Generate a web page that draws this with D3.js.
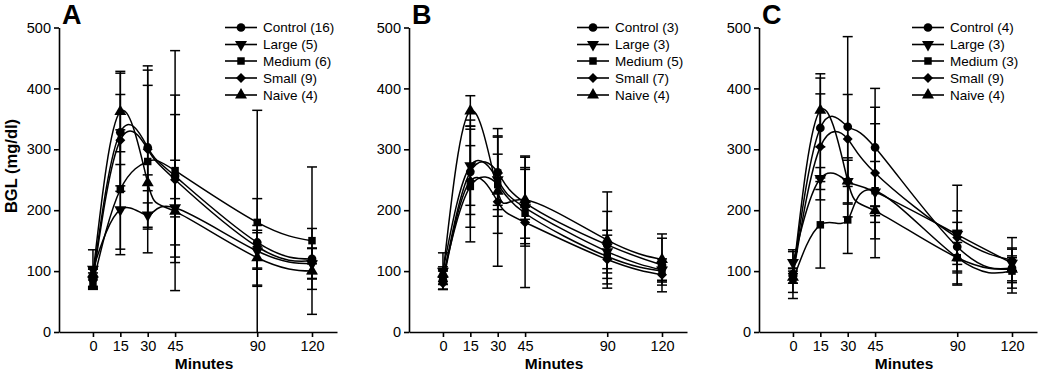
<!DOCTYPE html>
<html>
<head>
<meta charset="utf-8">
<script src="https://cdn.jsdelivr.net/npm/d3@7"></script>
<style>
  html, body { margin: 0; padding: 0; background: #fff; }
  svg { display: block; }
  text { font-family: "Liberation Sans", Arial, sans-serif; fill: #000; }
</style>
</head>
<body>
<svg id="chart" width="1050" height="373"></svg>
<script>
// ---------------- DATA ----------------
const minutes = [0, 15, 30, 45, 90, 120];
const groups = ["Control", "Large", "Medium", "Small", "Naive"];
const yTicks = [0, 100, 200, 300, 400, 500];

// Panel A
const countsA = [16, 5, 6, 9, 4];
const controlA = [90, 328, 303, 256, 147, 120];
const largeA   = [103, 201, 192, 204, 133, 112];
const mediumA  = [80, 234, 280, 265, 180, 150];
const smallA   = [85, 315, 300, 250, 140, 117];
const naiveA   = [95, 362, 245, 198, 122, 100];
const controlErrA = [15, 97, 134, 133, 72, 50];
const largeErrA   = [32, 74, 20, 15, 30, 25];
const mediumErrA  = [10, 98, 150, 197, 184, 121];
const smallErrA   = [12, 75, 105, 107, 35, 21];
const naiveErrA   = [8, 66, 13, 84, 45, 12];

// Panel B
const countsB = [3, 3, 5, 7, 4];
const controlB = [85, 263, 262, 212, 143, 110];
const largeB   = [100, 273, 250, 204, 132, 102];
const mediumB  = [90, 239, 242, 195, 124, 100];
const smallB   = [80, 248, 214, 180, 119, 94];
const naiveB   = [95, 363, 231, 217, 151, 119];
const controlErrB = [15, 70, 72, 58, 55, 44];
const largeErrB   = [30, 65, 42, 63, 35, 18];
const mediumErrB  = [12, 67, 80, 10, 20, 15];
const smallErrB   = [10, 100, 106, 107, 40, 12];
const naiveErrB   = [12, 25, 30, 72, 79, 42];

// Panel C
const countsC = [4, 3, 3, 9, 4];
const controlC = [95, 335, 337, 303, 140, 105];
const largeC   = [114, 252, 247, 230, 160, 113];
const mediumC  = [85, 176, 184, 232, 122, 100];
const smallC   = [92, 304, 317, 261, 155, 118];
const naiveC   = [90, 364, 248, 199, 122, 103];
const controlErrC = [40, 82, 148, 97, 40, 33];
const largeErrC   = [18, 18, 35, 50, 81, 12];
const mediumErrC  = [20, 71, 55, 110, 25, 36];
const smallErrC   = [12, 87, 73, 108, 44, 37];
const naiveErrC   = [10, 60, 38, 8, 45, 19];

// ---------------- BUILD ----------------
const panels = [
  { label: "A", counts: countsA, means: [controlA, largeA, mediumA, smallA, naiveA],
    errs: [controlErrA, largeErrA, mediumErrA, smallErrA, naiveErrA] },
  { label: "B", counts: countsB, means: [controlB, largeB, mediumB, smallB, naiveB],
    errs: [controlErrB, largeErrB, mediumErrB, smallErrB, naiveErrB] },
  { label: "C", counts: countsC, means: [controlC, largeC, mediumC, smallC, naiveC],
    errs: [controlErrC, largeErrC, mediumErrC, smallErrC, naiveErrC] }
];
const layout = [
  { dx: 0,   legendX: 225 },
  { dx: 350, legendX: 227 },
  { dx: 700, legendX: 212 }
];

const symbolFor = {
  Control: { type: d3.symbolCircle, size: 60, rot: 0 },
  Large:   { type: d3.symbolTriangle, size: 62, rot: 180 },
  Medium:  { type: d3.symbolSquare, size: 56, rot: 0 },
  Small:   { type: d3.symbolSquare, size: 50, rot: 45 },
  Naive:   { type: d3.symbolTriangle, size: 62, rot: 0 }
};

const svg = d3.select("#chart");

const x = d3.scaleLinear().domain([-18.6, 133.7]).range([59, 337]);
const y = d3.scaleLinear().domain([0, 500]).range([332, 27.5]);

const line = d3.line()
  .x(d => x(d.t))
  .y(d => y(d.v))
  .curve(d3.curveNatural);

function drawSymbol(g, name, cx, cy) {
  const s = symbolFor[name];
  g.append("path")
    .attr("d", d3.symbol().type(s.type).size(s.size)())
    .attr("transform", `translate(${cx},${cy}) rotate(${s.rot})`)
    .attr("fill", "#000");
}

panels.forEach((p, pi) => {
  const L = layout[pi];
  const g = svg.append("g").attr("transform", `translate(${L.dx},0)`);

  // axes
  const ya = g.append("g").attr("transform", `translate(${x.range()[0]},0)`)
    .call(d3.axisLeft(y).tickValues(yTicks).tickSize(5).tickSizeOuter(0).tickPadding(3));
  const xa = g.append("g").attr("transform", `translate(0,${y(0)})`)
    .call(d3.axisBottom(x).tickValues(minutes).tickSize(5).tickSizeOuter(0).tickPadding(4));
  [ya, xa].forEach(a => {
    a.selectAll("path, line").attr("stroke", "#000").attr("stroke-width", 1.6);
    a.selectAll("text").attr("font-size", 14.5).attr("font-family", "Liberation Sans, Arial, sans-serif").attr("fill", "#000");
  });

  // error bars
  groups.forEach((name, si) => {
    const eb = g.append("g");
    minutes.forEach((t, i) => {
      const m = p.means[si][i], e = p.errs[si][i];
      const hi = m + e, lo = Math.max(0, m - e);
      const cx = x(t);
      eb.append("line").attr("x1", cx).attr("x2", cx).attr("y1", y(hi)).attr("y2", y(lo))
        .attr("stroke", "#000").attr("stroke-width", 1.5);
      eb.append("line").attr("x1", cx - 5).attr("x2", cx + 5).attr("y1", y(hi)).attr("y2", y(hi))
        .attr("stroke", "#000").attr("stroke-width", 1.5);
      if (m - e > 0) {
        eb.append("line").attr("x1", cx - 5).attr("x2", cx + 5).attr("y1", y(lo)).attr("y2", y(lo))
          .attr("stroke", "#000").attr("stroke-width", 1.5);
      }
    });
  });

  // lines
  groups.forEach((name, si) => {
    const pts = minutes.map((t, i) => ({ t, v: p.means[si][i] }));
    g.append("path").attr("d", line(pts)).attr("fill", "none")
      .attr("stroke", "#000").attr("stroke-width", 1.5);
  });

  // markers
  groups.forEach((name, si) => {
    minutes.forEach((t, i) => drawSymbol(g, name, x(t), y(p.means[si][i])));
  });

  // legend
  const rowY = [27.5, 44.5, 61, 78, 95];
  groups.forEach((name, si) => {
    const lx = L.legendX, ly = rowY[si];
    g.append("line").attr("x1", lx).attr("x2", lx + 32).attr("y1", ly).attr("y2", ly)
      .attr("stroke", "#000").attr("stroke-width", 1.6);
    drawSymbol(g, name, lx + 16, ly);
    g.append("text").attr("x", lx + 38).attr("y", ly).attr("dy", "0.35em")
      .attr("font-size", 13.5).text(`${name} (${p.counts[si]})`);
  });

  // panel letter
  g.append("text").attr("x", 62).attr("y", 24).attr("font-size", 27)
    .attr("font-weight", "bold").text(p.label);

  // x title
  g.append("text").attr("x", 204).attr("y", 369).attr("text-anchor", "middle")
    .attr("font-size", 15.5).attr("font-weight", "bold").text("Minutes");
});

// y title (only panel A)
svg.append("text")
  .attr("transform", "translate(17,166) rotate(-90)")
  .attr("text-anchor", "middle")
  .attr("font-size", 16.5).attr("font-weight", "bold")
  .text("BGL (mg/dl)");
</script>
</body>
</html>
